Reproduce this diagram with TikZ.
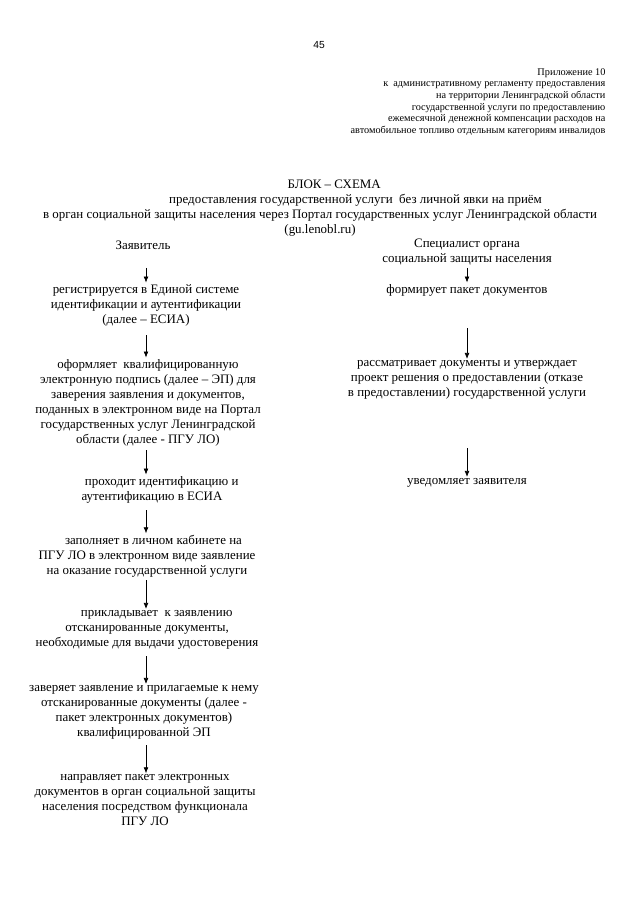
\documentclass[tikz,border=0pt]{standalone}
\usepackage{fontspec}
\setmainfont{Liberation Serif}
\newfontfamily\pagenumfont{Liberation Sans}
\usetikzlibrary{arrows.meta}

\begin{document}
\begin{tikzpicture}
[ x=0.75pt, y=-0.75pt,
every node/.style = {align = center, inner sep=1pt,
	font=\fontsize{9.7}{11.25}\selectfont}]
 \tikzstyle{arr}=[line width=0.5pt, -{Latex[length=4.5pt,width=3.6pt]}]
 \tikzstyle{small}=[font=\fontsize{7.7}{8.7}\selectfont, align=right, anchor=east]

 \useasboundingbox (0,0) rectangle (640,905);

 % page header
 \node[font=\pagenumfont\fontsize{7.7}{9}\selectfont] (pagenum) at (319,45) {45};
 \node[small] (annex) at (607,102) {Приложение 10\\
 	к\ \ административному регламенту предоставления\\
 	на территории Ленинградской области\\
 	государственной услуги по предоставлению\\
 	ежемесячной денежной компенсации расходов на\\
 	автомобильное топливо отдельным категориям инвалидов};

 % title
 \node (title) at (320,208.5) {\hspace*{2.2em}БЛОК -- СХЕМА\\
 	\hspace*{5.5em}предоставления государственной услуги\ \ без личной явки на приём\\
 	в орган социальной защиты населения через Портал государственных услуг Ленинградской области\\
 	(gu.lenobl.ru)};

 % columns
 \node (zayav) at (143,245) {Заявитель};
 \node (spec) at (467,252.5) {Специалист органа\\ социальной защиты населения};

 % applicant
 \node (l1) at (146,305) {регистрируется в Единой системе\\ идентификации и аутентификации\\ (далее -- ЕСИА)};
 \node (l2) at (148,402.5) {оформляет\ \ квалифицированную\\ электронную подпись (далее -- ЭП) для\\
 	заверения заявления и документов,\\ поданных в электронном виде на Портал\\
 	государственных услуг Ленинградской\\ области (далее - ПГУ ЛО)};
 \node (l3) at (152,489.5) {\hspace*{1.5em}проходит идентификацию и\\ аутентификацию в ЕСИА};
 \node (l4) at (147,556) {\hspace*{1em}заполняет в личном кабинете на\\ ПГУ ЛО в электронном виде заявление\\ на оказание государственной услуги};
 \node (l5) at (147,630) {\hspace*{1.5em}прикладывает\ \ к заявлению\\ отсканированные документы,\\ необходимые для выдачи удостоверения};
 \node (l6) at (144,712.5) {заверяет заявление и прилагаемые к нему\\ отсканированные документы (далее -\\ пакет электронных документов)\\ квалифицированной ЭП};
 \node (l7) at (145,800.5) {направляет пакет электронных\\ документов в орган социальной защиты\\ населения посредством функционала\\ ПГУ ЛО};

 % specialist
 \node (r1) at (467,290) {формирует пакет документов};
 \node (r2) at (467,380) {рассматривает документы и утверждает\\ проект решения о предоставлении (отказе\\ в предоставлении) государственной услуги};
 \node (r3) at (467,483) {уведомляет заявителя};

 % arrow starts
 \coordinate (a1) at (146,268);
 \coordinate (a2) at (146,335);
 \coordinate (a3) at (146,450);
 \coordinate (a4) at (146,510);
 \coordinate (a5) at (146,580);
 \coordinate (a6) at (146,656);
 \coordinate (a7) at (146,745);
 \coordinate (b1) at (467,268);
 \coordinate (b2) at (467,328);
 \coordinate (b3) at (467,448);

 \draw[arr] (a1) -- (a1 |- l1.north);
 \draw[arr] (a2) -- (a2 |- l2.north);
 \draw[arr] (a3) -- (a3 |- l3.north);
 \draw[arr] (a4) -- (a4 |- l4.north);
 \draw[arr] (a5) -- (a5 |- l5.north);
 \draw[arr] (a6) -- (a6 |- l6.north);
 \draw[arr] (a7) -- (a7 |- l7.north);
 \draw[arr] (b1) -- (r1);
 \draw[arr] (b2) -- (r2);
 \draw[arr] (b3) -- (r3);
\end{tikzpicture}
\end{document}
